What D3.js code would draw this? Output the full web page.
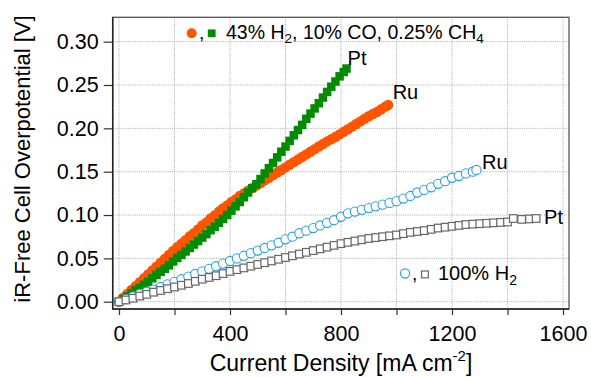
<!DOCTYPE html>
<html>
<head>
<meta charset="utf-8">
<script src="https://cdn.jsdelivr.net/npm/d3@7"></script>
<style>
	body { margin: 0; background: #fff; }
	svg { display: block; font-family: "Liberation Sans", Arial, Helvetica, sans-serif; }
</style>
</head>
<body>
<svg></svg>
<script>
// Ru electrode, 43% H2 / 10% CO / 0.25% CH4 (filled circles)
const ruCoCurrent = [0, 15, 30, 45, 60, 75, 90, 105, 120, 135, 150, 165, 180, 195, 210, 225, 240, 255, 270, 285,
	300, 315, 330, 345, 360, 375, 390, 405, 420, 435, 450, 465, 480, 495, 510, 525, 540, 555, 570, 585,
	600, 615, 630, 645, 660, 675, 690, 705, 720, 735, 750, 765, 780, 795, 810, 825, 840, 855, 870, 885,
	900, 915, 930, 945, 960, 970];
const ruCoVolt = [0.000, 0.0045, 0.009, 0.0135, 0.018, 0.0225, 0.027, 0.0315, 0.036, 0.0405, 0.045, 0.0495, 0.054, 0.0585, 0.063, 0.067, 0.071, 0.0755, 0.079, 0.0835,
	0.088, 0.0915, 0.096, 0.0995, 0.104, 0.1075, 0.111, 0.115, 0.118, 0.122, 0.125, 0.128, 0.131, 0.134, 0.137, 0.140, 0.143, 0.146, 0.149, 0.152,
	0.155, 0.158, 0.161, 0.164, 0.167, 0.170, 0.173, 0.176, 0.179, 0.182, 0.185, 0.1875, 0.190, 0.193, 0.196, 0.199, 0.202, 0.205, 0.208, 0.211,
	0.214, 0.2165, 0.219, 0.222, 0.225, 0.227];

// Pt electrode, same reformate (filled squares)
const ptCoCurrent = [0, 15, 30, 45, 60, 75, 90, 105, 120, 135, 150, 165, 180, 195, 210, 225, 240, 255, 270, 285,
	300, 315, 330, 345, 360, 375, 390, 405, 420, 435, 450, 465, 480, 495, 510, 525, 540, 555, 570, 585,
	600, 615, 630, 645, 660, 675, 690, 705, 720, 735, 750, 765, 780, 795, 810, 820];
const ptCoVolt = [0.000, 0.003, 0.006, 0.0095, 0.013, 0.016, 0.0195, 0.023, 0.027, 0.031, 0.0345, 0.038, 0.042, 0.0465, 0.0505, 0.054, 0.058, 0.062, 0.066, 0.070,
	0.074, 0.078, 0.0825, 0.0865, 0.091, 0.0955, 0.100, 0.105, 0.110, 0.115, 0.1205, 0.126, 0.131, 0.1355, 0.1415, 0.148, 0.154, 0.160, 0.1665, 0.173,
	0.179, 0.1855, 0.192, 0.198, 0.204, 0.211, 0.217, 0.223, 0.229, 0.2355, 0.242, 0.248, 0.254, 0.260, 0.265, 0.269];

// Ru electrode, 100% H2 (open circles)
const ruH2Current = [0, 25, 50, 75, 100, 125, 150, 175, 200, 225, 250, 275, 300, 325, 350, 375, 400, 425, 450, 475,
	500, 525, 550, 575, 600, 625, 650, 675, 700, 725, 750, 775, 800, 825, 850, 875, 900, 925, 950, 975,
	1000, 1025, 1050, 1075, 1100, 1125, 1150, 1175, 1200, 1225, 1250, 1275, 1288];
const ruH2Volt = [0.000, 0.003, 0.006, 0.009, 0.0115, 0.014, 0.017, 0.020, 0.023, 0.026, 0.029, 0.032, 0.035, 0.038, 0.041, 0.044, 0.047, 0.050, 0.053, 0.056,
	0.059, 0.062, 0.065, 0.068, 0.072, 0.075, 0.079, 0.082, 0.085, 0.088, 0.091, 0.094, 0.098, 0.102, 0.104, 0.106, 0.108, 0.110, 0.112, 0.114,
	0.116, 0.119, 0.122, 0.126, 0.129, 0.132, 0.136, 0.139, 0.143, 0.145, 0.148, 0.150, 0.152];

// Pt electrode, 100% H2 (open squares)
const ptH2Current = [0, 25, 50, 75, 100, 125, 150, 175, 200, 225, 250, 275, 300, 325, 350, 375, 400, 425, 450, 475,
	500, 525, 550, 575, 600, 625, 650, 675, 700, 725, 750, 775, 800, 825, 850, 875, 900, 925, 950, 975,
	1000, 1025, 1050, 1075, 1100, 1125, 1150, 1175, 1200, 1225, 1250, 1275, 1300, 1325, 1350, 1375, 1400,
	1421, 1451, 1479, 1503];
const ptH2Volt = [0.000, 0.002, 0.004, 0.0065, 0.0085, 0.011, 0.013, 0.015, 0.017, 0.019, 0.021, 0.0235, 0.026, 0.028, 0.030, 0.0325, 0.035, 0.037, 0.039, 0.041,
	0.043, 0.045, 0.047, 0.049, 0.051, 0.053, 0.055, 0.057, 0.059, 0.061, 0.063, 0.065, 0.067, 0.0685, 0.070, 0.0715, 0.073, 0.074, 0.075, 0.076,
	0.077, 0.0785, 0.080, 0.081, 0.082, 0.0835, 0.085, 0.086, 0.087, 0.088, 0.089, 0.0895, 0.090, 0.0905, 0.091, 0.0915, 0.092,
	0.096, 0.095, 0.0955, 0.096];

const xTicks = [0, 200, 400, 600, 800, 1000, 1200, 1400, 1600];
const xTickLabels = ['0', '', '400', '', '800', '', '1200', '', '1600'];
const yTicks = [0.00, 0.05, 0.10, 0.15, 0.20, 0.25, 0.30];
const yTickLabels = ['0.00', '0.05', '0.10', '0.15', '0.20', '0.25', '0.30'];

const ORANGE = '#ff5500';
const GREEN = '#008c00';
const BLUE = '#2a9fdc';
const GREY = '#666666';

function zip(xs, ys) {
	return xs.map((d, i) => ({I: d, V: ys[i]}));
}

function whenDocumentLoaded(action) {
	if (document.readyState === "loading") {
		document.addEventListener("DOMContentLoaded", action);
	} else {
		action();
	}
}

function makeChart() {
	const svg = d3.select('svg');
	svg.attr("width", 591).attr("height", 377);

	const left = 112.7, right = 569, top = 17.3, bottom = 309;

	const x = d3.scaleLinear().domain([-22.7, 1621.6]).range([left, right]);
	const y = d3.scaleLinear().domain([-0.0084, 0.3281]).range([bottom, top]);

	// grid
	const grid = svg.append('g')
		.attr('stroke', '#aaa')
		.attr('stroke-width', 1)
		.attr('stroke-dasharray', '1,1.2');
	grid.selectAll('line.gx').data(xTicks)
	  .enter().append('line')
		.attr('class', 'gx')
		.attr('x1', d => x(d)).attr('x2', d => x(d))
		.attr('y1', top).attr('y2', bottom);
	grid.selectAll('line.gy').data(yTicks)
	  .enter().append('line')
		.attr('class', 'gy')
		.attr('x1', left).attr('x2', right)
		.attr('y1', d => y(d)).attr('y2', d => y(d));

	// axes
	const yAxis = d3.axisLeft(y)
		.tickValues(yTicks)
		.tickFormat((d, i) => yTickLabels[i])
		.tickSize(9)
		.tickPadding(5);
	const gy = svg.append('g')
		.attr('transform', `translate(${left},0)`)
		.call(yAxis);
	gy.select('.domain').remove();
	gy.selectAll('line').attr('stroke', '#333').attr('stroke-width', 1.2);
	gy.selectAll('text')
		.attr('font-size', 21.5)
		.attr('fill', '#000')
		.attr('font-family', '"Liberation Sans", Arial, sans-serif');

	const xAxis = d3.axisBottom(x)
		.tickValues(xTicks)
		.tickFormat((d, i) => xTickLabels[i])
		.tickSize(6)
		.tickPadding(3);
	const gx = svg.append('g')
		.attr('transform', `translate(0,${bottom})`)
		.call(xAxis);
	gx.select('.domain').remove();
	gx.selectAll('line').attr('stroke', '#333').attr('stroke-width', 1.2);
	gx.selectAll('text')
		.attr('font-size', 21.5)
		.attr('fill', '#000')
		.attr('font-family', '"Liberation Sans", Arial, sans-serif')
		.attr('dy', null)
		.attr('y', 32);

	// frame
	svg.append('rect')
		.attr('x', left).attr('y', top)
		.attr('width', right - left).attr('height', bottom - top)
		.attr('fill', 'none')
		.attr('stroke', '#555')
		.attr('stroke-width', 1.3);
	svg.append('path')
		.attr('d', `M${left},${top}V${bottom}H${right}`)
		.attr('fill', 'none')
		.attr('stroke', '#222')
		.attr('stroke-width', 1.5);

	// series
	const plot = svg.append('g');

	plot.append('g').selectAll('circle').data(zip(ruCoCurrent, ruCoVolt))
	  .enter().append('circle')
		.attr('cx', d => x(d.I))
		.attr('cy', d => y(d.V))
		.attr('r', 5.2)
		.attr('fill', ORANGE);

	const sq1 = 8.5;
	plot.append('g').selectAll('rect').data(zip(ptCoCurrent, ptCoVolt))
	  .enter().append('rect')
		.attr('x', d => x(d.I) - sq1 / 2)
		.attr('y', d => y(d.V) - sq1 / 2)
		.attr('width', sq1).attr('height', sq1)
		.attr('fill', GREEN);

	plot.append('g').selectAll('circle').data(zip(ruH2Current, ruH2Volt))
	  .enter().append('circle')
		.attr('cx', d => x(d.I))
		.attr('cy', d => y(d.V))
		.attr('r', 4.6)
		.attr('fill', '#fff')
		.attr('stroke', BLUE)
		.attr('stroke-width', 1.1);

	const sq2 = 7.6;
	plot.append('g').selectAll('rect').data(zip(ptH2Current, ptH2Volt))
	  .enter().append('rect')
		.attr('x', d => x(d.I) - sq2 / 2)
		.attr('y', d => y(d.V) - sq2 / 2)
		.attr('width', sq2).attr('height', sq2)
		.attr('fill', '#fff')
		.attr('stroke', GREY)
		.attr('stroke-width', 1.2);

	// end labels
	const ends = [
		{text: 'Pt', I: ptCoCurrent[ptCoCurrent.length - 1], V: ptCoVolt[ptCoVolt.length - 1], dx: 1, dy: -3.6},
		{text: 'Ru', I: ruCoCurrent[ruCoCurrent.length - 1], V: ruCoVolt[ruCoVolt.length - 1], dx: 4.5, dy: -5.7},
		{text: 'Ru', I: ruH2Current[ruH2Current.length - 1], V: ruH2Volt[ruH2Volt.length - 1], dx: 5.6, dy: -0.7},
		{text: 'Pt', I: ptH2Current[ptH2Current.length - 1], V: ptH2Volt[ptH2Volt.length - 1], dx: 8, dy: 5.5}
	];
	svg.append('g').selectAll('text').data(ends)
	  .enter().append('text')
		.attr('x', d => x(d.I) + d.dx)
		.attr('y', d => y(d.V) + d.dy)
		.attr('font-size', 20)
		.text(d => d.text);

	// legend: reformate
	const lg1 = svg.append('g');
	lg1.append('circle').attr('cx', 191.7).attr('cy', 33.3).attr('r', 5).attr('fill', ORANGE);
	lg1.append('text').attr('x', 199).attr('y', 38.5).attr('font-size', 19).text(',');
	lg1.append('rect').attr('x', 207.8).attr('y', 29.4).attr('width', 7.8).attr('height', 7.8).attr('fill', GREEN);
	const t1 = lg1.append('text').attr('x', 226).attr('y', 38.5).attr('font-size', 19.5);
	t1.append('tspan').text('43% H');
	t1.append('tspan').attr('font-size', 13.5).attr('dy', 4.5).text('2');
	t1.append('tspan').attr('dy', -4.5).text(', 10% CO, 0.25% CH');
	t1.append('tspan').attr('font-size', 13.5).attr('dy', 4.5).text('4');

	// legend: pure hydrogen
	const lg2 = svg.append('g');
	lg2.append('circle').attr('cx', 405).attr('cy', 273.5).attr('r', 4.6)
		.attr('fill', '#fff').attr('stroke', BLUE).attr('stroke-width', 1.1);
	lg2.append('text').attr('x', 412).attr('y', 279.5).attr('font-size', 19).text(',');
	lg2.append('rect').attr('x', 421.5).attr('y', 271).attr('width', 6.8).attr('height', 6.8)
		.attr('fill', '#fff').attr('stroke', GREY).attr('stroke-width', 1.2);
	const t2 = lg2.append('text').attr('x', 438).attr('y', 280).attr('font-size', 20);
	t2.append('tspan').text('100% H');
	t2.append('tspan').attr('font-size', 14).attr('dy', 4.5).text('2');

	// axis titles
	svg.append('text')
		.attr('transform', 'translate(30,159) rotate(-90)')
		.attr('text-anchor', 'middle')
		.attr('font-size', 22)
		.text('iR-Free Cell Overpotential [V]');

	const xt = svg.append('text')
		.attr('x', 341).attr('y', 371)
		.attr('text-anchor', 'middle')
		.attr('font-size', 23);
	xt.append('tspan').text('Current Density [mA cm');
	xt.append('tspan').attr('font-size', 15).attr('dy', -10).text('-2');
	xt.append('tspan').attr('dy', 10).text(']');
}

whenDocumentLoaded(() => {
	makeChart();
});
</script>
</body>
</html>
